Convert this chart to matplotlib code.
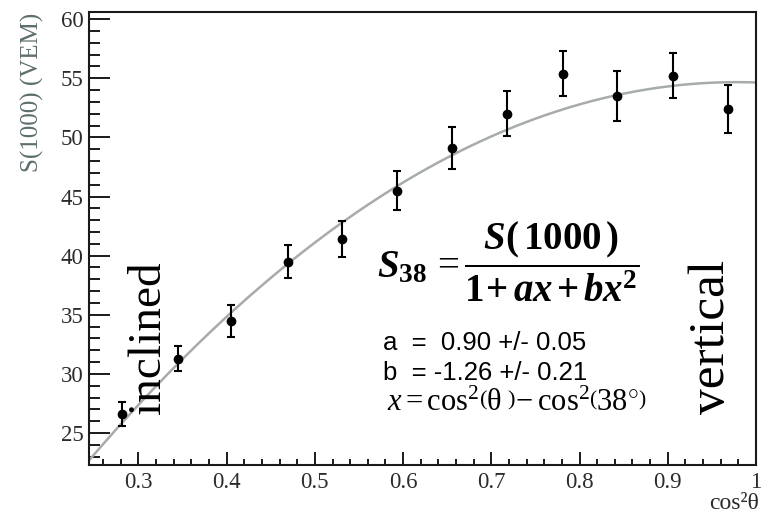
import numpy as np
import matplotlib
matplotlib.use("Agg")
import matplotlib.pyplot as plt
from matplotlib.ticker import MultipleLocator, FormatStrFormatter

plt.rcParams['mathtext.fontset'] = 'custom'
plt.rcParams['mathtext.rm'] = 'Liberation Serif'
plt.rcParams['mathtext.it'] = 'Liberation Serif:italic'
plt.rcParams['mathtext.bf'] = 'Liberation Serif:bold'
plt.rcParams['mathtext.bfit'] = 'Liberation Serif:bold:italic'

# Measured S(1000) versus cos^2(theta)
cos2theta = [0.2815, 0.3447, 0.4053, 0.4690, 0.5303, 0.5928,
             0.6557, 0.7182, 0.7807, 0.8428, 0.9057, 0.9678]
s1000 = [26.6, 31.3, 34.5, 39.5, 41.4, 45.5,
         49.1, 52.0, 55.4, 53.5, 55.2, 52.4]
s1000_err = [1.0, 1.05, 1.35, 1.37, 1.5, 1.65,
             1.77, 1.9, 1.9, 2.1, 1.9, 2.07]

# Fit parameters: S(1000) = S38 * (1 + a x + b x^2), x = cos^2(theta) - cos^2(38 deg)
fit_a = 0.90
fit_b = -1.26
fit_s38 = 47.1

x_ticks = [0.3, 0.4, 0.5, 0.6, 0.7, 0.8, 0.9, 1.0]
y_ticks = [25, 30, 35, 40, 45, 50, 55, 60]

fig = plt.figure(figsize=(7.62, 5.15), dpi=100)
ax = fig.add_axes([0.1168, 0.0971, 0.8753, 0.8796])

xlo, xhi = 0.244, 1.0
ylo, yhi = 22.3, 60.6

# fit curve
xc = np.linspace(xlo, xhi, 300)
xx = xc - np.cos(np.radians(38.0)) ** 2
ax.plot(xc, fit_s38 * (1 + fit_a * xx + fit_b * xx ** 2),
        color='#a7abab', lw=1.8, zorder=2)

# data points
ax.errorbar(cos2theta, s1000, yerr=s1000_err, fmt='o', color='black',
            ms=6, elinewidth=1.5, capsize=3.2, capthick=1.5, zorder=3)

ax.set_xlim(xlo, xhi)
ax.set_ylim(ylo, yhi)
ax.xaxis.set_major_locator(plt.FixedLocator(x_ticks))
ax.xaxis.set_minor_locator(MultipleLocator(0.02))
ax.yaxis.set_major_locator(plt.FixedLocator(y_ticks))
ax.yaxis.set_minor_locator(MultipleLocator(1))
ax.xaxis.set_major_formatter(FormatStrFormatter('%g'))

for s in ax.spines.values():
    s.set_linewidth(1.5)
    s.set_color('#1a1a1a')

ax.tick_params(axis='y', which='major', direction='in', length=15, width=1.4,
               pad=4, labelsize=16.5, labelcolor='#2b2b2b', color='#1a1a1a')
ax.tick_params(axis='y', which='minor', direction='in', length=8, width=1.4,
               color='#1a1a1a')
ax.tick_params(axis='x', which='major', direction='in', length=9.5, width=1.4,
               pad=5, labelsize=16.5, labelcolor='#2b2b2b', color='#1a1a1a')
ax.tick_params(axis='x', which='minor', direction='in', length=4.5, width=1.4,
               color='#1a1a1a')
for lab in ax.get_xticklabels() + ax.get_yticklabels():
    lab.set_fontfamily('Liberation Serif')

# axis titles
fig.text(0.042, 0.975, 'S(1000) (VEM)', rotation=90, ha='center', va='top',
         family='Liberation Serif', fontsize=18, color='#5e6e6e')
fig.text(0.996, 0.023, 'cos²θ', ha='right', va='center',
         family='Liberation Serif', fontsize=17, color='#2b2b2b')

# side labels
ax.text(0.089, 0.112, 'inclined', transform=ax.transAxes, rotation=90,
        ha='center', va='bottom', family='Liberation Serif', fontsize=34,
        color='black')
ax.text(0.934, 0.112, 'vertical', transform=ax.transAxes, rotation=90,
        ha='center', va='bottom', family='Liberation Serif', fontsize=37,
        color='black')

# fit formula
ax.text(0.432, 0.448,
        r'$\mathbfit{S}_{\mathbf{38}}\, = \dfrac{\mathbfit{S}\mathbf{(\,1000\,)}}'
        r'{\mathbf{1\!+\!}\,\mathbfit{ax}\,\mathbf{+}\,\mathbfit{bx}^{\mathbf{2}}}$',
        transform=ax.transAxes, ha='left', va='center', fontsize=28,
        color='black')
ax.text(0.441, 0.269, 'a  =  0.90 +/- 0.05', transform=ax.transAxes,
        ha='left', va='center', family='Liberation Sans', fontsize=18.5,
        color='black')
ax.text(0.441, 0.203, 'b  = -1.26 +/- 0.21', transform=ax.transAxes,
        ha='left', va='center', family='Liberation Sans', fontsize=18.5,
        color='black')
ax.text(0.447, 0.139,
        r'$x = \mathrm{cos}^2\left(\mathrm{θ}\;\right)\!-\mathrm{cos}^2\left(38^{\circ}\right)$',
        transform=ax.transAxes, ha='left', va='center', fontsize=22,
        color='black')

fig.savefig('out.png', dpi=100)
